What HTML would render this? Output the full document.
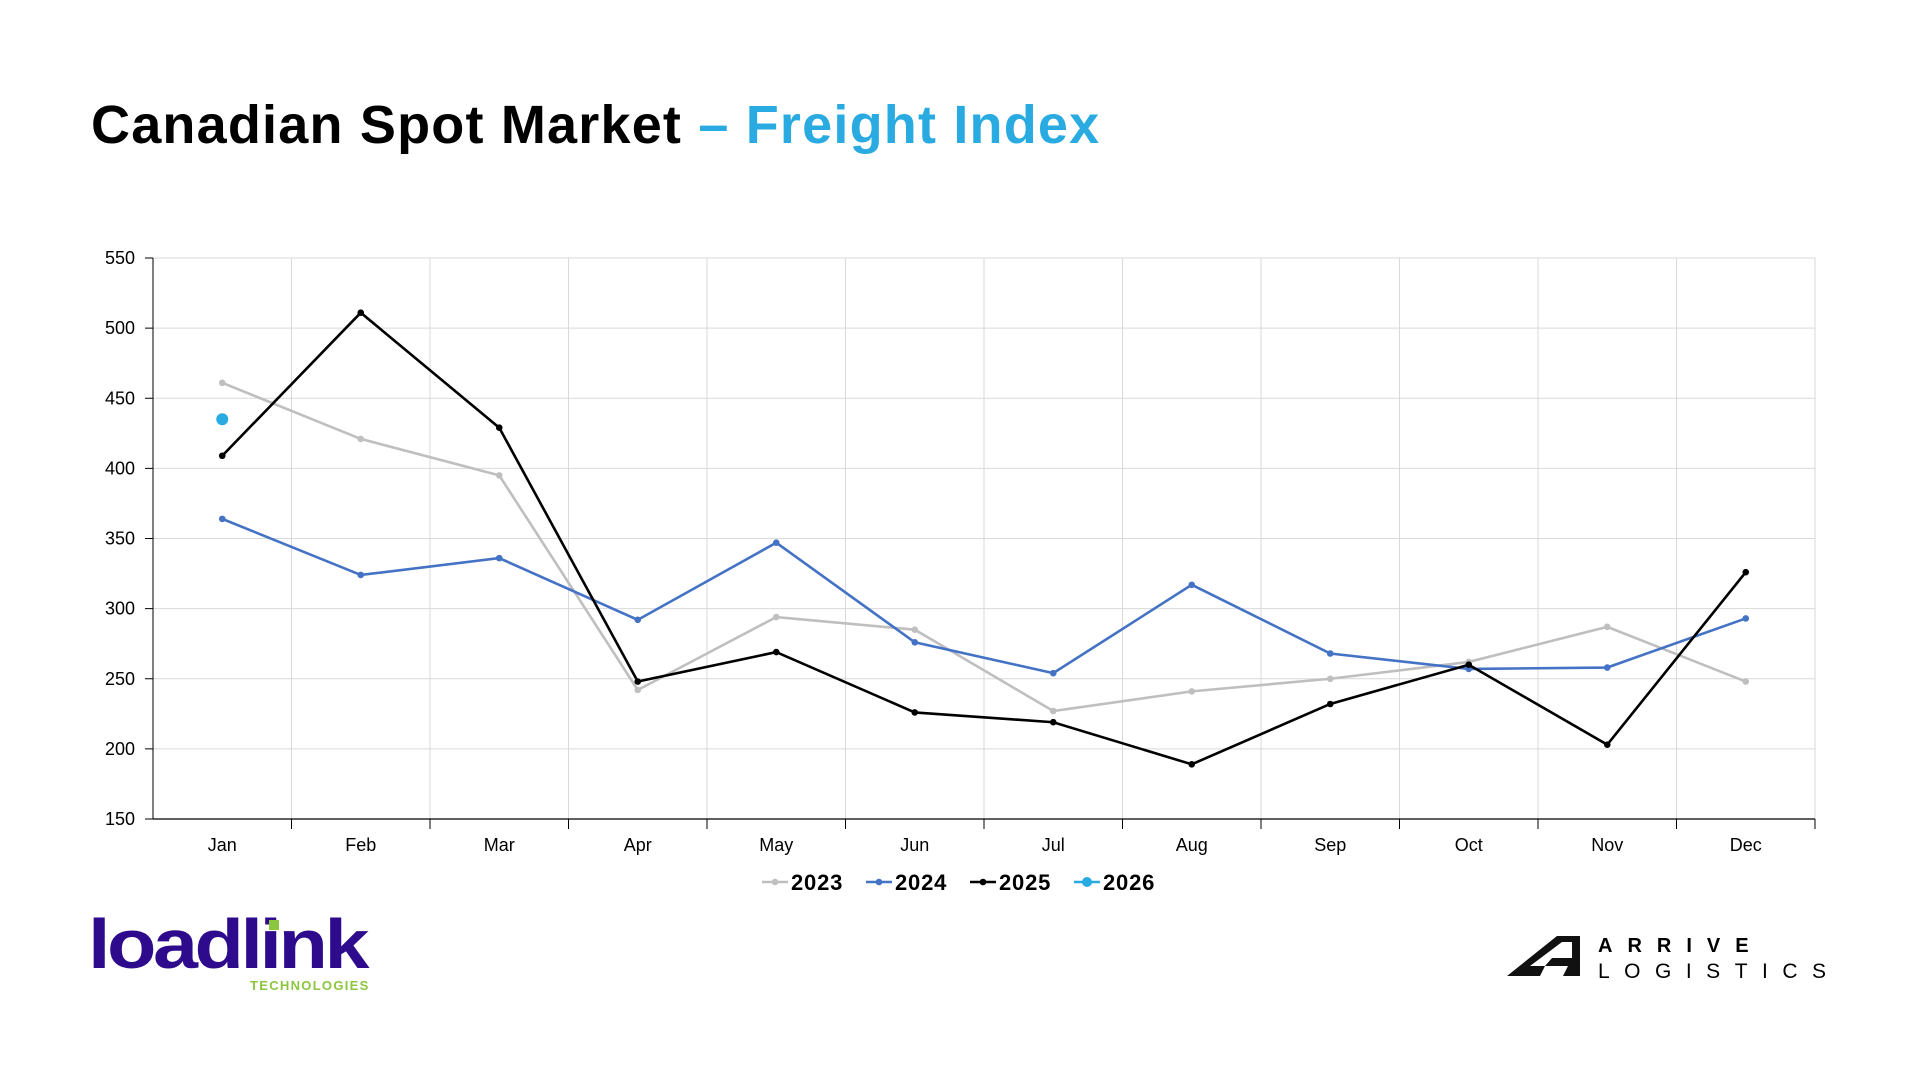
<!DOCTYPE html>
<html><head><meta charset="utf-8">
<style>
html,body{margin:0;padding:0;background:#fff;}
body{width:1920px;height:1080px;overflow:hidden;position:relative;font-family:"Liberation Sans",sans-serif;}
.title{position:absolute;left:91px;top:94px;font-size:54px;font-weight:bold;letter-spacing:1.2px;color:#000;white-space:nowrap;}
.title span{color:#29abe2;}
</style></head><body>
<div class="title">Canadian Spot Market <span>– Freight Index</span></div>
<svg id="c" width="1920" height="1080" style="position:absolute;left:0;top:0" xmlns="http://www.w3.org/2000/svg"></svg>
<script>
const L=153,R=1815,T=258,B=819;
const y=v=>B-(v-150)*(B-T)/400;
const cw=(R-L)/12, cx=i=>L+cw*(i+0.5);
const m=["Jan","Feb","Mar","Apr","May","Jun","Jul","Aug","Sep","Oct","Nov","Dec"];
const d={
"#bfbfbf":[461,421,395,242,294,285,227,241,250,262,287,248],
"#4472c4":[364,324,336,292,347,276,254,317,268,257,258,293],
"#000000":[409,511,429,248,269,226,219,189,232,260,203,326]};
let s="";
for(let v=200;v<=550;v+=50) s+=`<line x1="${L}" x2="${R}" y1="${y(v)}" y2="${y(v)}" stroke="#d9d9d9" stroke-width="1"/>`;
for(let i=1;i<=12;i++){const x=L+cw*i;s+=`<line x1="${x}" x2="${x}" y1="${T}" y2="${B}" stroke="#d9d9d9"/><line x1="${x}" x2="${x}" y1="${B}" y2="${B+10}" stroke="#000"/>`;}
for(let v=150;v<=550;v+=50){s+=`<line x1="${L-8}" x2="${L}" y1="${y(v)}" y2="${y(v)}" stroke="#000"/><text x="${L-18}" y="${y(v)+6}" text-anchor="end" font-size="18" font-family="Liberation Sans,sans-serif">${v}</text>`;}
s+=`<line x1="${L}" x2="${L}" y1="${T}" y2="${B}" stroke="#000"/><line x1="${L}" x2="${R}" y1="${B}" y2="${B}" stroke="#000" stroke-width="1.2"/>`;
m.forEach((t,i)=>s+=`<text x="${cx(i)}" y="${851}" text-anchor="middle" font-size="18" font-family="Liberation Sans,sans-serif">${t}</text>`);
for(const c in d){const p=d[c].map((v,i)=>cx(i)+","+y(v)).join(" ");
s+=`<polyline points="${p}" fill="none" stroke="${c}" stroke-width="2.6"/>`;
d[c].forEach((v,i)=>s+=`<circle cx="${cx(i)}" cy="${y(v)}" r="3.3" fill="${c}"/>`);}
s+=`<circle cx="${cx(0)}" cy="${y(435)}" r="6" fill="#29abe2"/>`;
const lg=[["#bfbfbf","2023",762],["#4472c4","2024",866],["#000000","2025",970],["#29abe2","2026",1074]];
lg.forEach(([c,t,x])=>{s+=`<line x1="${x}" x2="${x+26}" y1="882" y2="882" stroke="${c}" stroke-width="2.6"/><circle cx="${x+13}" cy="882" r="${t=="2026"?5:3.3}" fill="${c}"/><text x="${x+29}" y="890" font-size="22" font-weight="bold" font-family="Liberation Sans,sans-serif" letter-spacing="0.8">${t}</text>`;});
s+=`<text x="88" y="968" font-size="70" font-weight="bold" fill="#2e0a8c" letter-spacing="-3" font-family="Liberation Sans,sans-serif" textLength="278" lengthAdjust="spacingAndGlyphs">loadlink</text>`;
s+=`<rect x="269" y="920" width="10" height="10" fill="#8cc63f"/>`;
s+=`<text x="250" y="990" font-size="13" font-weight="bold" fill="#8cc63f" letter-spacing="1.3" font-family="Liberation Sans,sans-serif">TECHNOLOGIES</text>`;
s+=`<polygon points="1507,976 1557,936 1580,936 1580,976 1563,976 1568,966 1545,966 1540,976" fill="#111"/><polygon points="1530,966 1562,942 1572,942 1572,958 1552,958 1545,966" fill="#fff"/>`;
s+=`<text x="1598" y="952" font-size="20" font-weight="bold" letter-spacing="15" font-family="Liberation Sans,sans-serif">ARRIVE</text>`;
s+=`<text x="1598" y="978" font-size="21" letter-spacing="14.5" font-family="Liberation Sans,sans-serif">LOGISTICS</text>`;
document.getElementById("c").innerHTML=s;
</script>
</body></html>
